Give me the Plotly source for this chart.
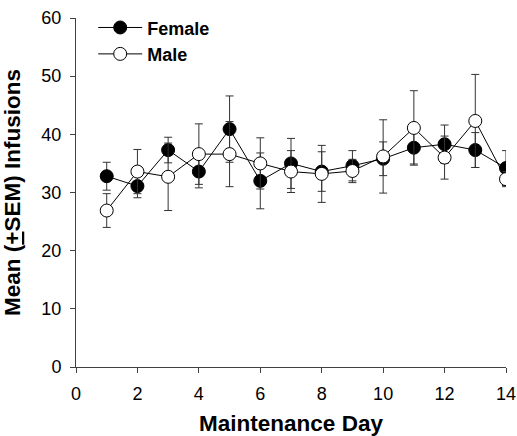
import plotly.graph_objects as go

days = list(range(1, 15))
female_mean = [32.8, 31.1, 37.3, 33.6, 40.9, 32.0, 35.0, 33.6, 34.6, 35.8, 37.7, 38.3, 37.3, 34.2]
female_sem = [2.4, 2.0, 2.2, 2.8, 5.7, 4.8, 4.3, 3.4, 2.6, 2.9, 2.8, 3.3, 3.0, 3.0]
male_mean = [26.9, 33.6, 32.7, 36.6, 36.6, 35.0, 33.6, 33.2, 33.7, 36.2, 41.1, 36.0, 42.3, 32.3]
male_sem = [2.9, 3.8, 5.8, 5.2, 5.6, 4.4, 3.6, 4.9, 2.0, 6.3, 6.4, 3.7, 8.0, 1.3]

x_ticks = [0, 2, 4, 6, 8, 10, 12, 14]
y_ticks = [0, 10, 20, 30, 40, 50, 60]

FONT = "Liberation Sans, Arial, sans-serif"

fig = go.Figure()
fig.add_trace(go.Scatter(
    x=days, y=female_mean, name="Female", mode="lines+markers",
    line=dict(color="#000000", width=1),
    marker=dict(size=13, color="#000000", line=dict(color="#000000", width=1)),
    error_y=dict(type="data", array=female_sem, visible=True,
                 color="#333333", thickness=1, width=4),
))
fig.add_trace(go.Scatter(
    x=days, y=male_mean, name="Male", mode="lines+markers",
    line=dict(color="#000000", width=1),
    marker=dict(size=13, color="#ffffff", line=dict(color="#000000", width=1)),
    error_y=dict(type="data", array=male_sem, visible=True,
                 color="#333333", thickness=1, width=4),
))

axis_common = dict(
    automargin=False,
    showgrid=False, zeroline=False, showline=True, linecolor="#404040", linewidth=1,
    ticks="outside", ticklen=5, tickcolor="#404040", tickwidth=1,
    tickfont=dict(family=FONT, size=18, color="#000000"),
)

fig.update_layout(
    width=517, height=436,
    margin=dict(l=76, r=11, t=18, b=69, autoexpand=False),
    paper_bgcolor="white", plot_bgcolor="white",
    font=dict(family=FONT, color="#000000"),
    showlegend=True,
    legend=dict(
        x=0.04, y=1.025, xanchor="left", yanchor="top",
        bgcolor="rgba(0,0,0,0)", borderwidth=0,
        font=dict(family=FONT, size=18, color="#000000", weight="bold"),
        itemwidth=44,
    ),
    xaxis=dict(
        range=[0, 14], tickvals=x_ticks, ticktext=[str(v) for v in x_ticks],
        ticklabelstandoff=5,
        title=dict(text="<b>Maintenance Day</b>", font=dict(family=FONT, size=22.5), standoff=16),
        **axis_common,
    ),
    yaxis=dict(
        range=[0, 60], tickvals=y_ticks, ticktext=[str(v) for v in y_ticks],
        ticklabelstandoff=5,
        title=dict(text="<b>Mean (<u>+</u>SEM) Infusions</b>", font=dict(family=FONT, size=22.5), standoff=14),
        **axis_common,
    ),
)

fig.write_html("out.html", config={"displayModeBar": False},
               post_script="document.body.style.margin='0';")
